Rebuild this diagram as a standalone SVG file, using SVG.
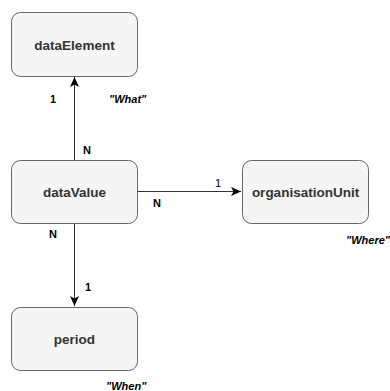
<svg xmlns="http://www.w3.org/2000/svg" width="390" height="391" viewBox="0 0 390 391">
  <style>
    .box { fill: #f5f5f5; stroke: #666666; stroke-width: 1; }
    .name { font-family: "Liberation Sans", Arial, Helvetica, sans-serif; font-size: 13.5px; font-weight: bold; fill: #333333; text-anchor: middle; dominant-baseline: central; }
    .card { font-family: "Liberation Sans", Arial, Helvetica, sans-serif; font-size: 11px; font-weight: bold; fill: #000000; }
    .plain { font-family: "Liberation Sans", Arial, Helvetica, sans-serif; font-size: 11px; fill: #000000; }
    .role { font-family: "Liberation Sans", Arial, Helvetica, sans-serif; font-size: 11px; font-weight: bold; font-style: italic; fill: #000000; }
    .link { fill: none; stroke: #333333; stroke-width: 1; }
  </style>
  <defs>
    <marker id="arrow" viewBox="0 0 10 10" refX="10" refY="5" markerWidth="10" markerHeight="10" markerUnits="userSpaceOnUse" orient="auto">
      <path d="M0,0.5 L10,5 L0,9.5 L2.5,5 Z" fill="#000000"/>
    </marker>
  </defs>
  <rect width="390" height="391" fill="#ffffff"/>

  <g id="connectors">
    <line class="link" x1="74.5" y1="160" x2="74.5" y2="77" marker-end="url(#arrow)"/>
    <line class="link" x1="137" y1="191.5" x2="241" y2="191.5" marker-end="url(#arrow)"/>
    <line class="link" x1="74.5" y1="223" x2="74.5" y2="306" marker-end="url(#arrow)"/>
  </g>

  <g id="dataElement">
    <rect class="box" x="11.5" y="12.5" width="126" height="64" rx="9"/>
    <text class="name" x="74.5" y="45">dataElement</text>
  </g>
  <g id="dataValue">
    <rect class="box" x="11.5" y="160.5" width="126" height="63" rx="9"/>
    <text class="name" x="74.5" y="192">dataValue</text>
  </g>
  <g id="organisationUnit">
    <rect class="box" x="242.5" y="160.5" width="126" height="63" rx="9"/>
    <text class="name" x="305.5" y="192">organisationUnit</text>
  </g>
  <g id="period">
    <rect class="box" x="11.5" y="307.5" width="126" height="63" rx="9"/>
    <text class="name" x="74.5" y="339">period</text>
  </g>

  <g id="labels">
    <text class="card" x="50" y="103">1</text>
    <text class="role" x="109" y="103">"What"</text>
    <text class="card" x="83" y="154">N</text>
    <text class="plain" x="215" y="187">1</text>
    <text class="card" x="153" y="207">N</text>
    <text class="card" x="49" y="238">N</text>
    <text class="role" x="346" y="244">"Where"</text>
    <text class="card" x="85" y="291">1</text>
    <text class="role" x="106" y="390">"When"</text>
  </g>
</svg>
